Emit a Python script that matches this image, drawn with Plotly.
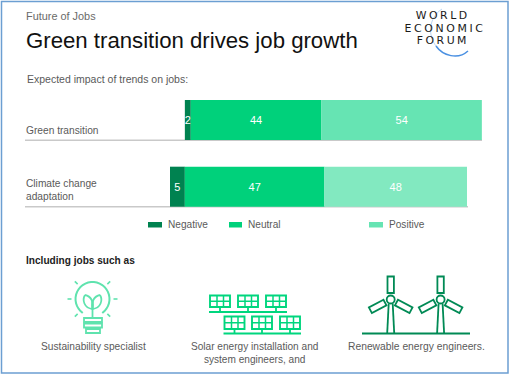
import math
import plotly.graph_objects as go

categories = ["Green transition", "Climate change<br>adaptation"]
offset = [5, 0]
negative = [2, 5]
neutral = [44, 47]
positive = [54, 48]
legend_labels = ["Negative", "Neutral", "Positive"]

W, H = 510, 375
C_NEG, C_NEU = "#008250", "#00D17B"
C_POS = ["#66E4B3", "#82E9C0"]
C_BULB = "#5FE3AE"
C_TURB = "#008A55"
SCALE = 2.97
X0 = 170


def px(x):
    return x / W


def py(y):
    return 1 - y / H


shapes = []
annotations = []


def text(t, x, y, size=11, color="#5A5A5A", anchor="left", family="Liberation Sans", vanchor="middle", weight=None):
    f = dict(size=size, color=color, family=family)
    if weight:
        f["weight"] = weight
    annotations.append(dict(text=t, x=px(x), y=py(y), xref="paper", yref="paper", xanchor=anchor,
                            yanchor=vanchor, showarrow=False, borderpad=0, align=anchor, font=f))


def line(x1, y1, x2, y2, color, width=2.0):
    shapes.append(dict(type="line", xref="paper", yref="paper", x0=px(x1), y0=py(y1), x1=px(x2), y1=py(y2),
                       line=dict(color=color, width=width), layer="above"))


def rect(x1, y1, x2, y2, color=None, fill=None, width=2.0, layer="above"):
    shapes.append(dict(type="rect", xref="paper", yref="paper", x0=px(x1), y0=py(y1), x1=px(x2), y1=py(y2),
                       line=dict(color=color or "rgba(0,0,0,0)", width=width if color else 0),
                       fillcolor=fill or "rgba(0,0,0,0)", layer=layer))


def path(points, color, width=2.0, close=False, fill=None):
    d = "M " + " L ".join(f"{px(x):.5f},{py(y):.5f}" for x, y in points)
    if close:
        d += " Z"
    shapes.append(dict(type="path", xref="paper", yref="paper", path=d, line=dict(color=color, width=width),
                       fillcolor=fill or "rgba(0,0,0,0)", layer="above"))


def curve(d_pts, color, width=2.0):
    p = [f"{px(x):.5f},{py(y):.5f}" for x, y in d_pts]
    d = "M " + p[0]
    for i in range(1, len(p), 3):
        d += " C " + " ".join(p[i:i + 3])
    shapes.append(dict(type="path", xref="paper", yref="paper", path=d, line=dict(color=color, width=width),
                       fillcolor="rgba(0,0,0,0)", layer="above"))


def circle(cx, cy, r, color, width=2.0, fill=None):
    shapes.append(dict(type="circle", xref="paper", yref="paper", x0=px(cx - r), y0=py(cy - r), x1=px(cx + r),
                       y1=py(cy + r), line=dict(color=color, width=width),
                       fillcolor=fill or "rgba(0,0,0,0)", layer="above"))


# frame
rect(1.5, 1.5, 508, 373, color="#6C9FD2", width=1.5, layer="below")

# baselines under the bars
shapes.append(dict(type="line", xref="paper", yref="paper", x0=px(25), x1=px(482), y0=py(140.3), y1=py(140.3),
                   line=dict(color="#C9C9C9", width=1.5), layer="below"))
shapes.append(dict(type="line", xref="paper", yref="paper", x0=px(25), x1=px(468), y0=py(206.8), y1=py(206.8),
                   line=dict(color="#C9C9C9", width=1.5), layer="below"))

# texts
text("Future of Jobs", 24.5, 15.5, 10.9, "#6A6A6A")
text("Green transition drives job growth", 24.5, 40, 22.2, "#111111")
text("Expected impact of trends on jobs:", 25.5, 79.5, 10.5, "#5A5A5A")
text(categories[0], 24.5, 130, 10.2, "#5A5A5A")
text(categories[1], 24.5, 190, 10.2, "#5A5A5A")
text("Including jobs such as", 24.5, 260, 10.1, "#222222", weight=700)
text("Sustainability specialist", 93, 346.5, 10.2, "#5A5A5A", anchor="center")
text("Solar energy installation and<br>system engineers, and", 254, 353, 10.1, "#5A5A5A", anchor="center")
text("Renewable energy engineers.", 416, 346.5, 10.3, "#5A5A5A", anchor="center")

# legend
for lab, x1, x2, c in zip(legend_labels, [148, 229, 369], [162, 242, 383], [C_NEG, C_NEU, C_POS[0]]):
    rect(x1, 222, x2, 227.5, fill=c)
    text(lab, x2 + 4.5, 224.5, 10.1, "#5A5A5A")

# logo
text("WORLD", 442.5, 15.7, 10.9, "#1A1A1A", anchor="center", family="DejaVu Sans")
text("ECONOMIC", 444.5, 28.3, 10.9, "#1A1A1A", anchor="center", family="DejaVu Sans")
text("FORUM", 443, 40.8, 10.9, "#1A1A1A", anchor="center", family="DejaVu Sans")
curve([(442, 9), (428, 18), (428, 36), (436, 46)], "#A9CBF0", 0.8)
curve([(436, 46), (443, 56), (458, 60), (468, 51)], "#4A90E2", 1.5)

# bulb
bulb = [(92.5 + 17 * math.sin(math.radians(a)), 299 - 17 * math.cos(math.radians(a))) for a in range(-145, 146, 10)]
path(bulb, C_BULB, 2)
rect(84, 318, 102, 322, color=C_BULB, width=1.8)
rect(84, 323.5, 102, 327.5, color=C_BULB, width=1.8)
rect(86, 329, 100, 333, color=C_BULB, width=1.8)
line(92.5, 302, 92.5, 318, C_BULB, 1.8)
curve([(92.5, 309), (84, 308), (82, 300), (85, 295)], C_BULB, 1.8)
curve([(85, 295), (91, 296), (94, 302), (92.5, 309)], C_BULB, 1.8)
curve([(92.5, 309), (101, 308), (103, 300), (100, 295)], C_BULB, 1.8)
curve([(100, 295), (94, 296), (91, 302), (92.5, 309)], C_BULB, 1.8)
for a in (-135, -45, 45, 135, -90, 90):
    r = math.radians(a)
    line(92.5 + 21 * math.sin(r), 299 - 21 * math.cos(r), 92.5 + 25 * math.sin(r), 299 - 25 * math.cos(r), C_BULB, 1.6)

# solar panels
C_SOL = "#00D67E"
for xs, yt, yb, yl in (((210, 238, 266), 295.5, 307, 312), ((224.5, 252, 280), 316.5, 329, 333.5)):
    for x in xs:
        rect(x, yt, x + 20, yb, color=C_SOL, width=1.9)
        line(x, (yt + yb) / 2, x + 20, (yt + yb) / 2, C_SOL, 1.5)
        line(x + 7, yt, x + 7, yb, C_SOL, 1.5)
        line(x + 13.5, yt, x + 13.5, yb, C_SOL, 1.5)
        line(x + 10, yb, x + 10, yl, C_SOL, 1.8)
    line(xs[0] - 1, yl, xs[-1] + 21, yl, C_SOL, 2)

# turbines
line(362, 333.5, 470, 333.5, C_TURB, 2)
for cx in (390.7, 440.6):
    cy = 299.5
    circle(cx, cy, 4, C_TURB, 1.8)
    line(cx - 2, cy + 4, cx - 3.5, 333, C_TURB, 1.8)
    line(cx + 2, cy + 4, cx + 3.5, 333, C_TURB, 1.8)
    for ang in (0, 118, -118):
        r = math.radians(ang)
        dx, dy = math.sin(r), -math.cos(r)
        nx, ny = -dy, dx
        pts = []
        for d, s in ((6.5, 1), (23, 1), (23, -1), (6.5, -1)):
            pts.append((cx + dx * d + nx * 3.2 * s, cy + dy * d + ny * 3.2 * s))
        path(pts, C_TURB, 1.8, close=True)

fig = go.Figure()
fig.add_bar(y=categories, x=negative, base=offset, orientation="h", name=legend_labels[0], width=0.6,
            marker=dict(color=C_NEG, line=dict(width=0)), text=negative)
fig.add_bar(y=categories, x=neutral, base=[o + n for o, n in zip(offset, negative)], orientation="h",
            name=legend_labels[1], width=0.6, marker=dict(color=C_NEU, line=dict(width=0)), text=neutral)
fig.add_bar(y=categories, x=positive, base=[o + n + m for o, n, m in zip(offset, negative, neutral)], orientation="h",
            name=legend_labels[2], width=0.6, marker=dict(color=C_POS, line=dict(width=0)), text=positive)
fig.update_traces(textposition="inside", insidetextanchor="middle", textangle=0, constraintext="none",
                  textfont=dict(color="#FFFFFF", size=11, family="Liberation Sans"), cliponaxis=False)
fig.update_layout(
    width=W, height=H, margin=dict(l=0, r=0, t=0, b=0), barmode="overlay", showlegend=False,
    paper_bgcolor="#FFFFFF", plot_bgcolor="rgba(0,0,0,0)", shapes=shapes, annotations=annotations,
    xaxis=dict(visible=False, range=[-X0 / SCALE, (W - X0) / SCALE]),
    yaxis=dict(visible=False, type="category", categoryorder="array", categoryarray=categories,
               range=[(H - 120) / 66.7, -120 / 66.7]),
)
post = """
document.documentElement.style.margin = '0';
document.documentElement.style.overflow = 'hidden';
document.body.style.margin = '0';
document.querySelectorAll('.annotation-text').forEach(function (t) {
  var s = t.textContent;
  if (s === 'WORLD' || s === 'ECONOMIC' || s === 'FORUM') {
    t.style.letterSpacing = (s === 'ECONOMIC' ? '2.6px' : '2.5px');
  }
});
"""
fig.write_html("out.html", config=dict(displayModeBar=False), post_script=post)
